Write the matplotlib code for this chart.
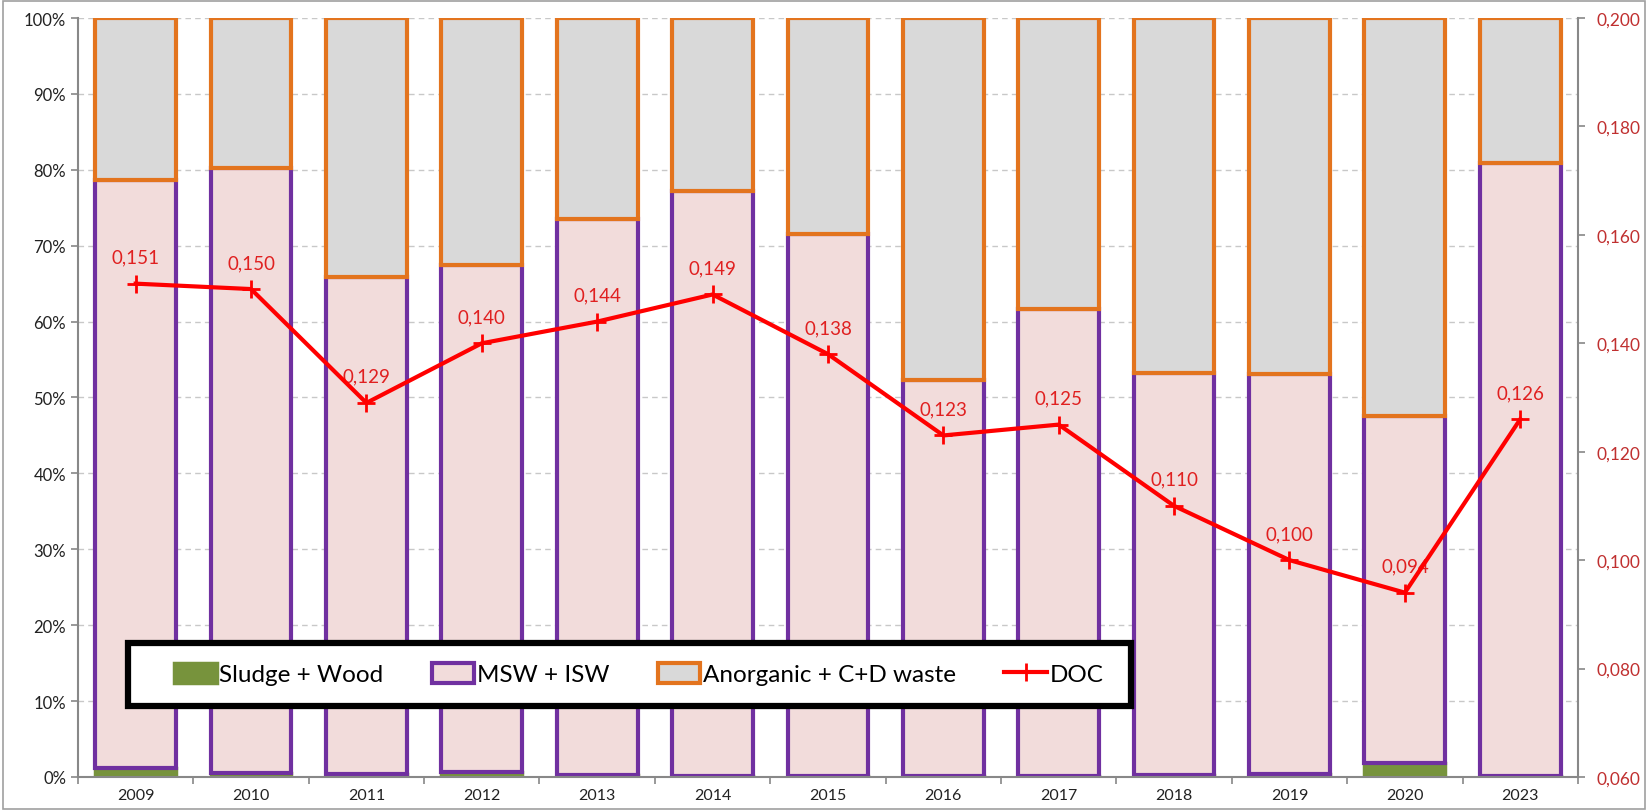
import matplotlib
matplotlib.use("Agg")
import matplotlib.pyplot as plt
from matplotlib.patches import Rectangle
from matplotlib.ticker import FixedLocator
import numpy as np

plt.rcParams['font.family'] = ['Lato', 'DejaVu Sans']

years = ['2009', '2010', '2011', '2012', '2013', '2014', '2015', '2016', '2017', '2018', '2019', '2020', '2023']
sludge_wood = [1.2, 0.5, 0.4, 0.6, 0.2, 0.1, 0.1, 0.1, 0.1, 0.3, 0.4, 1.8, 0.1]
msw_isw_top = [78.6, 80.2, 65.9, 67.4, 73.5, 77.2, 71.5, 52.3, 61.7, 53.2, 53.1, 47.6, 80.9]
doc = [0.151, 0.150, 0.129, 0.140, 0.144, 0.149, 0.138, 0.123, 0.125, 0.110, 0.100, 0.094, 0.126]
left_ticks = [0, 10, 20, 30, 40, 50, 60, 70, 80, 90, 100]
right_ticks = [0.060, 0.080, 0.100, 0.120, 0.140, 0.160, 0.180, 0.200]

msw_isw = [t - s for t, s in zip(msw_isw_top, sludge_wood)]
anorganic = [100 - t for t in msw_isw_top]

green = '#77933C'
pink = '#F2DCDB'
purple = '#7030A0'
grey = '#D9D9D9'
orange = '#E3741E'
red = '#FF0000'
tickred = '#C03030'

fig = plt.figure(figsize=(16.48, 8.12), dpi=100)
ax = fig.add_axes([0.0473, 0.0419, 0.9102, 0.9347])
x = np.arange(len(years))
w = 0.70

ax.set_axisbelow(True)
ax.yaxis.grid(True, linestyle=(0, (4, 3)), color='#C8C8C8', linewidth=1.0)

ax.bar(x, sludge_wood, w, color=green, edgecolor=green, linewidth=2.5, label='Sludge + Wood', zorder=2)
ax.bar(x, msw_isw, w, bottom=sludge_wood, color=pink, edgecolor=purple, linewidth=3, label='MSW + ISW', zorder=2)
ax.bar(x, anorganic, w, bottom=msw_isw_top, color=grey, edgecolor=orange, linewidth=3, label='Anorganic + C+D waste', zorder=2)

ax.set_xlim(-0.5, len(years) - 0.5)
ax.set_ylim(0, 100)
ax.set_yticks(left_ticks)
ax.set_yticklabels([f'{t}%' for t in left_ticks])
ax.set_xticks(x)
ax.set_xticklabels(years)
ax.xaxis.set_minor_locator(FixedLocator(np.arange(-0.5, len(years), 1.0)))
ax.tick_params(axis='x', which='major', length=0, labelsize=11.5, pad=8, labelcolor='#222222')
ax.tick_params(axis='x', which='minor', length=5, color='#888888', width=1.2)
ax.tick_params(axis='y', length=5, color='#888888', width=1.2, labelsize=12, labelcolor='#222222')
for sp in ['top', 'right']:
    ax.spines[sp].set_visible(False)
ax.spines['left'].set_color('#888888')
ax.spines['left'].set_linewidth(1.5)
ax.spines['bottom'].set_color('#888888')
ax.spines['bottom'].set_linewidth(1.5)

ax2 = ax.twinx()
ax2.set_ylim(0.060, 0.200)
ax2.set_yticks(right_ticks)
ax2.set_yticklabels([f'{t:.3f}'.replace('.', ',') for t in right_ticks])
ax2.tick_params(axis='y', length=5, color='#888888', width=1.2, labelsize=12.5, labelcolor=tickred, pad=8)
for sp in ['top', 'left', 'bottom']:
    ax2.spines[sp].set_visible(False)
ax2.spines['right'].set_color('#888888')
ax2.spines['right'].set_linewidth(1.5)

line, = ax2.plot(x, doc, color=red, linewidth=3, marker='+', markersize=13, markeredgewidth=2, label='DOC', zorder=5)
for xi, v in zip(x, doc):
    ax2.annotate(f'{v:.3f}'.replace('.', ','), (xi, v), textcoords='offset points', xytext=(0, 13),
                 ha='center', va='bottom', color='#E02020', fontsize=13.5)

# legend frame
bx0, bx1, by0, by1 = 0.0335, 0.702, 0.0935, 0.177
ax2.add_patch(Rectangle((bx0, by0), bx1 - bx0, by1 - by0, transform=ax2.transAxes,
                        facecolor='white', edgecolor='black', linewidth=4.5, zorder=9))

handles = ax.get_legend_handles_labels()[0] + [line]
labels = ['Sludge + Wood', 'MSW + ISW', 'Anorganic + C+D waste', 'DOC']
leg = ax2.legend(handles, labels, loc='center', bbox_to_anchor=((bx0 + bx1) / 2 + 0.006, (by0 + by1) / 2),
                 ncol=4, frameon=False, fontsize=17.5,
                 handlelength=1.75, handleheight=0.85, handletextpad=0.1, borderaxespad=0, columnspacing=2.0)
leg.set_zorder(10)

fig.patches.append(Rectangle((0.002, 0.002), 0.996, 0.996, transform=fig.transFigure,
                             fill=False, edgecolor='#A0A0A0', linewidth=1.2))

fig.savefig('out.png', dpi=100)
